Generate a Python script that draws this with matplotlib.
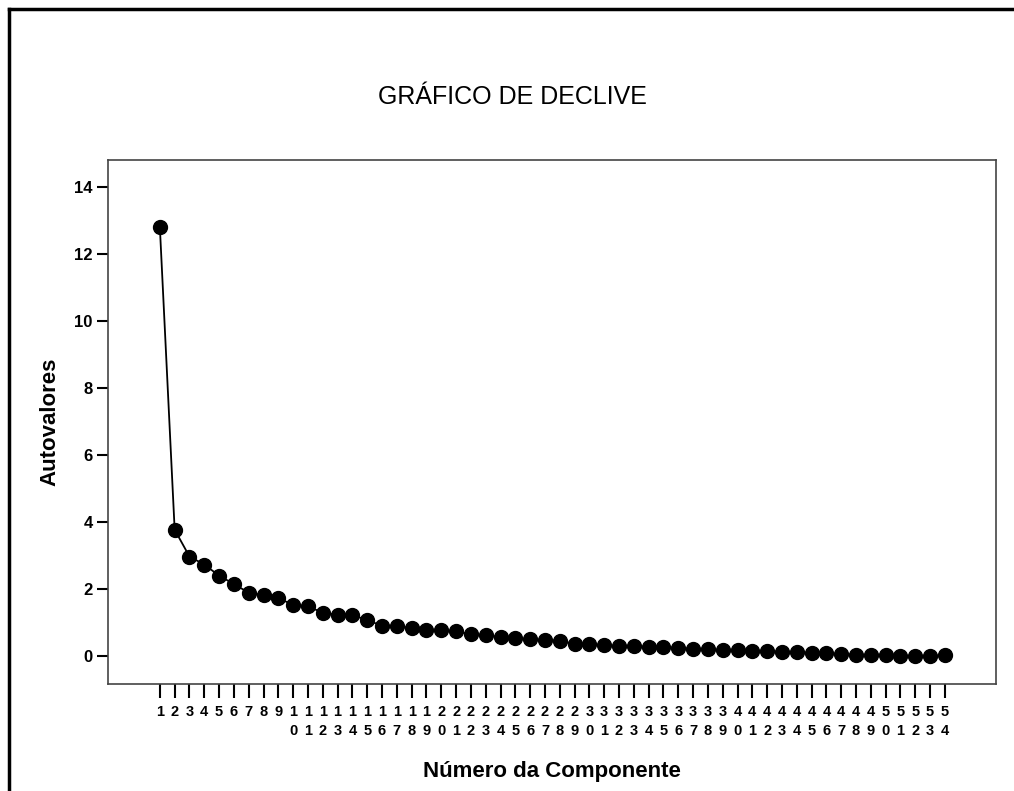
import matplotlib
matplotlib.use("Agg")
import matplotlib.pyplot as plt
from matplotlib.lines import Line2D

plt.rcParams['font.family'] = ['Liberation Sans', 'DejaVu Sans']

# scree plot data (eigenvalues)
componentes = list(range(1, 55))
autovalores = [12.81, 3.78, 2.98, 2.74, 2.41, 2.16, 1.90, 1.83, 1.75, 1.53,
               1.50, 1.30, 1.25, 1.24, 1.08, 0.92, 0.90, 0.85, 0.80, 0.78,
               0.75, 0.66, 0.63, 0.58, 0.54, 0.51, 0.49, 0.47, 0.38, 0.36,
               0.34, 0.31, 0.30, 0.29, 0.28, 0.25, 0.23, 0.21, 0.19, 0.18,
               0.17, 0.16, 0.14, 0.12, 0.11, 0.10, 0.07, 0.05, 0.04, 0.03,
               0.02, 0.015, 0.01, 0.03]
yticks = [0, 2, 4, 6, 8, 10, 12, 14]
# two-digit numbers are written with the digits stacked
xticklabels = [str(c) if c < 10 else str(c)[0] + "\n" + str(c)[1] for c in componentes]

W, H = 1014, 791
fig = plt.figure(figsize=(W / 100, H / 100), dpi=100)
ax = fig.add_axes([108 / W, 1 - 684 / H, (996 - 108) / W, (684 - 160) / H])

ax.plot(componentes, autovalores, color="black", lw=1.3, marker="o",
        markersize=10, markerfacecolor="black", markeredgecolor="black")

ax.set_xlim(-2.5, 57.45)
ax.set_ylim(-0.82, 14.8)
ax.set_yticks(yticks)
ax.set_yticklabels([str(v) for v in yticks], fontsize=12, fontweight="bold")
ax.set_xticks(componentes)
ax.set_xticklabels(xticklabels, fontsize=10.5, fontweight="bold", linespacing=1.5,
                   va="top")
ax.tick_params(axis="x", length=10, width=1.5, pad=5, color="black")
ax.tick_params(axis="y", length=8, width=1.5, pad=3, color="black")

for s in ax.spines.values():
    s.set_color("#444444")
    s.set_linewidth(1.2)

ax.set_ylabel("Autovalores", fontsize=16, fontweight="bold", labelpad=10)
ax.set_xlabel("Número da Componente", fontsize=16, fontweight="bold", labelpad=16)
fig.text(512 / W, 1 - 97 / H, "GRÁFICO DE DECLIVE", fontsize=18,
         ha="center", va="center")

# outer frame (only top and left edges are visible in the original)
fig.add_artist(Line2D([9 / W, 1], [1 - 9 / H, 1 - 9 / H], color="black", lw=2.5,
                      transform=fig.transFigure))
fig.add_artist(Line2D([9 / W, 9 / W], [0, 1 - 9 / H], color="black", lw=2.5,
                      transform=fig.transFigure))

fig.savefig("out.png", dpi=100, facecolor="white")
